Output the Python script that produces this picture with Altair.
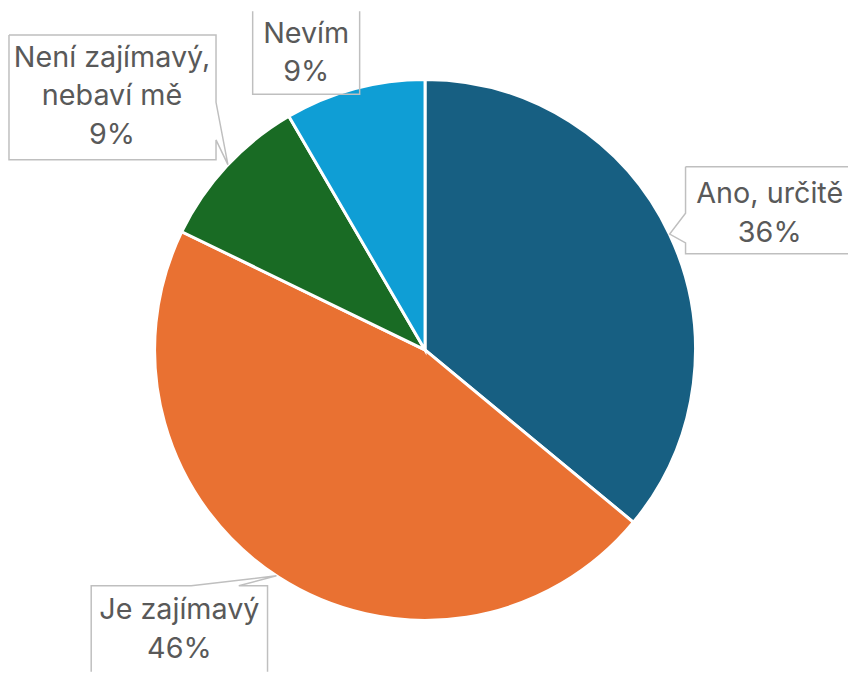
import altair as alt
import pandas as pd

# ---- data ----
categories = ["Ano, určitě", "Je zajímavý", "Není zajímavý, nebaví mě", "Nevím"]
values = [36.0, 46.2, 9.4, 8.4]
pct_labels = ["36%", "46%", "9%", "9%"]
label_names = ["Ano, určitě", "Je zajímavý", "Není zajímavý,\nnebaví mě", "Nevím"]
colors = ["#175F82", "#E97132", "#196B24", "#0F9ED5"]

# ---- layout (page pixel coordinates) ----
PIE_CENTER = (429, 350)
PIE_R = 273
LABEL_POS = {
    "Ano, určitě": (777, 202),
    "Je zajímavý": (181, 622),
    "Není zajímavý, nebaví mě": (113, 64),
    "Nevím": (309, 40),
}
CALLOUTS = {
    "Ano, určitě": [(692, 165), (880, 165), (880, 253), (692, 253), (692, 242), (676, 233), (692, 212), (692, 165)],
    "Je zajímavý": [(92, 700), (92, 588), (193, 588), (279, 578), (241, 588), (270, 588), (270, 700)],
    "Není zajímavý, nebaví mě": [(9, 32), (218, 32), (218, 100), (230, 163), (218, 138), (218, 158), (9, 158), (9, 32)],
    "Nevím": [(255, 0), (255, 92), (363, 92), (363, 0)],
}

W, H = 848, 667
xs = alt.Scale(domain=[8, 8 + W], range=[0, W], nice=False, zero=False)
ys = alt.Scale(domain=[8, 8 + H], range=[0, H], nice=False, zero=False)

pie_df = pd.DataFrame({
    "category": categories,
    "value": values,
    "idx": list(range(len(categories))),
})

pie = alt.Chart(pie_df).mark_arc(radius=PIE_R, stroke="white", strokeWidth=3).encode(
    theta=alt.Theta("value:Q", stack=True),
    color=alt.Color("category:N", scale=alt.Scale(domain=categories, range=colors), legend=None),
    order=alt.Order("idx:Q"),
    x=alt.X(datum=PIE_CENTER[0], type="quantitative", scale=xs, axis=None),
    y=alt.Y(datum=PIE_CENTER[1], type="quantitative", scale=ys, axis=None),
)

rows = []
for cat in categories:
    for i, (px, py) in enumerate(CALLOUTS[cat]):
        rows.append({"shape": cat, "i": i, "x": px, "y": py})
call_df = pd.DataFrame(rows)

callouts = alt.Chart(call_df).mark_line(color="#BFBFBF", strokeWidth=1.5, clip=True).encode(
    x=alt.X("x:Q", scale=xs, axis=None),
    y=alt.Y("y:Q", scale=ys, axis=None),
    detail="shape:N",
    order="i:Q",
)

lab_df = pd.DataFrame({
    "label": [f"{n}\n{p}" for n, p in zip(label_names, pct_labels)],
    "x": [LABEL_POS[c][0] for c in categories],
    "y": [LABEL_POS[c][1] for c in categories],
})

labels = alt.Chart(lab_df).mark_text(
    align="center", baseline="alphabetic", fontSize=29, lineHeight=39,
    lineBreak="\n", font="Inter", color="#595959",
).encode(
    x=alt.X("x:Q", scale=xs, axis=None),
    y=alt.Y("y:Q", scale=ys, axis=None),
    text="label:N",
)

chart = alt.layer(pie, callouts, labels).properties(
    width=W, height=H, autosize=alt.AutoSizeParams(type="none"), padding=0,
).configure_view(stroke=None)

chart.save("out.html", embed_options={"renderer": "svg", "actions": False})
